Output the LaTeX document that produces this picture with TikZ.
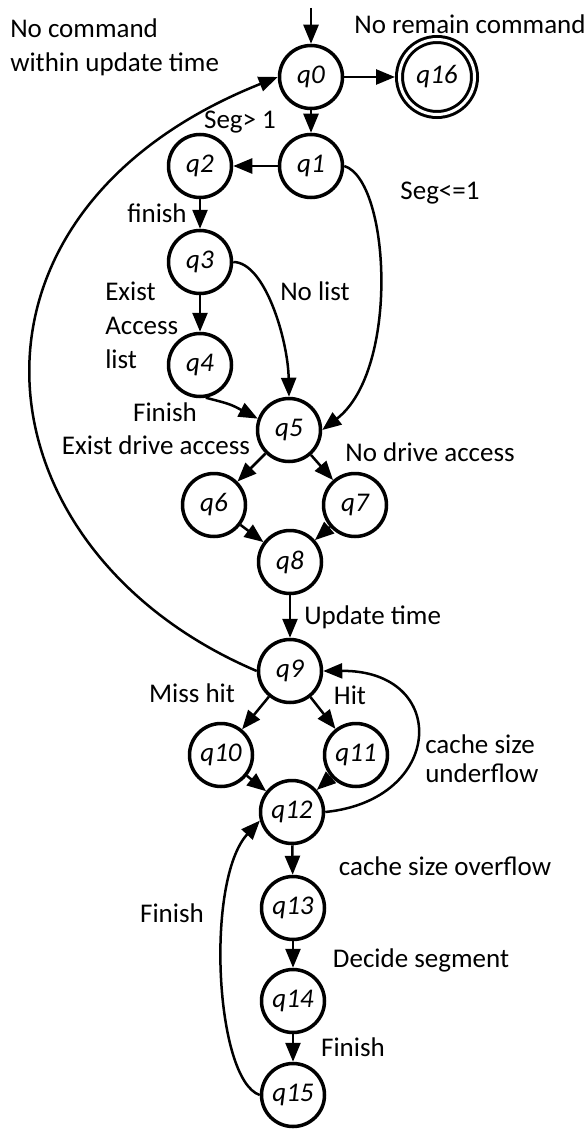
\documentclass[tikz,border=0pt]{standalone}
\usepackage{fontspec}
\setmainfont{Carlito}
\usetikzlibrary{arrows.meta}

\begin{document}
\begin{tikzpicture}[
       x=1pt, y=-1pt,
       line width=2.5pt,
       >={Triangle[length=19pt,width=15pt]},
       font=\fontsize{27}{34}\selectfont,
       etat/.style={
         circle,
         draw,
         line width=3.5pt,
         inner sep=0pt,
         minimum size=63pt,
         font=\fontsize{27}{34}\selectfont\itshape
       },
       final/.style={
         etat,
         line width=3pt,
         double,
         double distance=3pt,
         minimum size=75pt
       },
       texte/.style={
         inner sep=0pt,
         align=left
       }
     ]

       \useasboundingbox (0,0) rectangle (588,1129);

       \node (q0) at (311,77) [etat]{q0};
       \node (q16) at (437,77) [final]{q16};
       \node (q1) at (311,166) [etat]{q1};
       \node (q2) at (200,166) [etat]{q2};
       \node (q3) at (200,262) [etat]{q3};
       \node (q4) at (200,365) [etat]{q4};
       \node (q5) at (289,430) [etat]{q5};
       \node (q6) at (214,505) [etat]{q6};
       \node (q7) at (355,505) [etat]{q7};
       \node (q8) at (290,562) [etat]{q8};
       \node (q9) at (290,671) [etat]{q9};
       \node (q10) at (221,755) [etat]{q10};
       \node (q11) at (356,755) [etat]{q11};
       \node (q12) at (292,812) [etat]{q12};
       \node (q13) at (293,908) [etat]{q13};
       \node (q14) at (293,1001) [etat]{q14};
       \node (q15) at (293,1095) [etat]{q15};
       \coordinate (start) at (311,8);

       \node (nocmd) at (9,47) [texte,anchor=west]{No command\\within update time};
       \node (noremain) at (470,24) [texte]{No remain command};
       \node (seggt) at (240,122) [texte]{Seg> 1};
       \node (segle) at (440,193) [texte]{Seg<=1};
       \node (finish23) at (157,213) [texte]{finish};
       \node (nolist) at (315,291) [texte]{No list};
       \node (exist) at (104,325) [texte,anchor=west]{Exist\\Access\\list};
       \node (finish45) at (165,412) [texte]{Finish};
       \node (existdrive) at (156,445) [texte]{Exist drive access};
       \node (nodrive) at (430,452) [texte]{No drive access};
       \node (update) at (303,617) [texte,anchor=west]{Update time};
       \node (miss) at (192,693) [texte]{Miss hit};
       \node (hit) at (350,695) [texte]{Hit};
       \node (underflow) at (424,759) [texte,anchor=west]{cache size\\[-5pt]underflow};
       \node (overflow) at (445,866) [texte]{cache size overflow};
       \node (finish1512) at (172,913) [texte]{Finish};
       \node (decide) at (421,960) [texte]{Decide segment};
       \node (finish1415) at (353,1047) [texte]{Finish};

       \draw[->] (start) -- (q0);
       \draw[->,shorten >=3pt] (q0) -- (q16);
       \draw[->] (q0) -- (q1);
       \draw[->] (q1) -- (q2);
       \draw[->] (q2) -- (q3);
       \draw[->] (q3) -- (q4);
       \draw[->] (q3.east) .. controls (265,262) and (288,340) .. (q5.north);
       \draw[->] (q1.east) .. controls (390,180) and (400,370) .. (q5.east);
       \draw[->] (q4.-80) .. controls (230,404) .. (q5.160);

       \draw[->] (q5) -- (q6);
       \draw[->] (q5) -- (q7);
       \draw[->] (q6) -- (q8);
       \draw[->] (q7) -- (q8);
       \draw[->] (q8) -- (q9);
       \draw[->] (q9.west) .. controls (-28,550) and (-66,214) .. (q0.west);

       \draw[->] (q9) -- (q10);
       \draw[->] (q9) -- (q11);
       \draw[->] (q10) -- (q12);
       \draw[->] (q11) -- (q12);
       \draw[->] (q12.east) .. controls (445,800) and (450,670) .. (q9.east);

       \draw[->] (q12) -- (q13);
       \draw[->] (q13) -- (q14);
       \draw[->] (q14) -- (q15);
       \draw[->] (q15.west) .. controls (215,1080) and (205,880) .. (q12.195);

\end{tikzpicture}
\end{document}
